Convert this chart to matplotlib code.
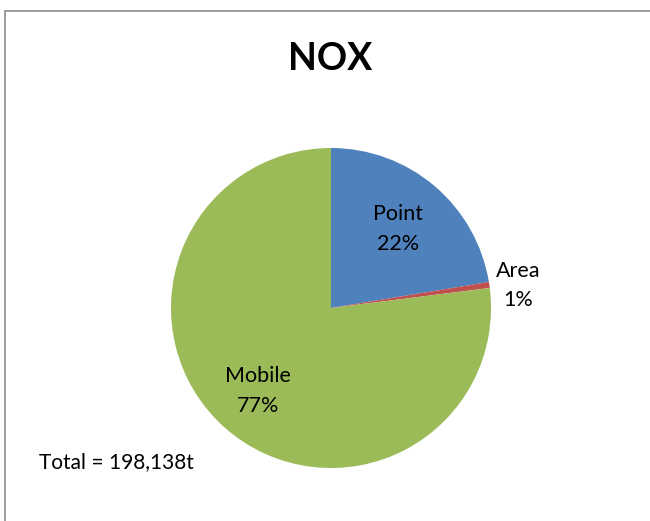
import numpy as np
import matplotlib.pyplot as plt
from matplotlib.patches import Rectangle

### DATA
sources = ['Point', 'Area', 'Mobile']
shares = [22.4, 0.6, 77.0]  # percent of total NOX
colors = ['#4F81BD', '#C0504D', '#9BBB59']
total_label = 'Total = 198,138t'

plt.rcParams['font.family'] = ['Lato', 'DejaVu Sans']

W, H = 650, 521
fig = plt.figure(figsize=(W/100, H/100), dpi=100)

### chart border (grey frame, runs off right and bottom)
fig.patches.append(Rectangle((5/W, -0.05), 1.1, (H - 11)/H + 0.05,
                             transform=fig.transFigure, fill=False,
                             edgecolor='#8C8C8C', linewidth=1.2))

### pie axes: center (331, 308), radius 160 px
cx, cy, r = 331, 308, 160
ax = fig.add_axes([(cx - r)/W, (H - cy - r)/H, 2*r/W, 2*r/H])
wedges, _ = ax.pie(shares, colors=colors, startangle=90, counterclock=False,
                   radius=1.0, wedgeprops=dict(linewidth=0))
ax.set_xlim(-1, 1)
ax.set_ylim(-1, 1)
ax.set_aspect('equal')
ax.axis('off')

### data labels
dist = {'Point': 0.65, 'Area': 1.18, 'Mobile': 0.69}
for w, name, val in zip(wedges, sources, shares):
    mid = np.deg2rad((w.theta1 + w.theta2) / 2)
    d = dist[name]
    ax.text(d*np.cos(mid), d*np.sin(mid) - (0.03 if name == 'Area' else 0),
            '%s\n%d%%' % (name, round(val)),
            ha='center', va='center', fontsize=15.5, linespacing=1.6,
            color='black', clip_on=False)

fig.text(330/W, 1 - 59/H, 'NOX', ha='center', va='center',
         fontsize=27, fontweight='bold')
fig.text(39/W, 1 - 462/H, total_label, ha='left', va='center', fontsize=15)

plt.savefig('out.png', dpi=100)
